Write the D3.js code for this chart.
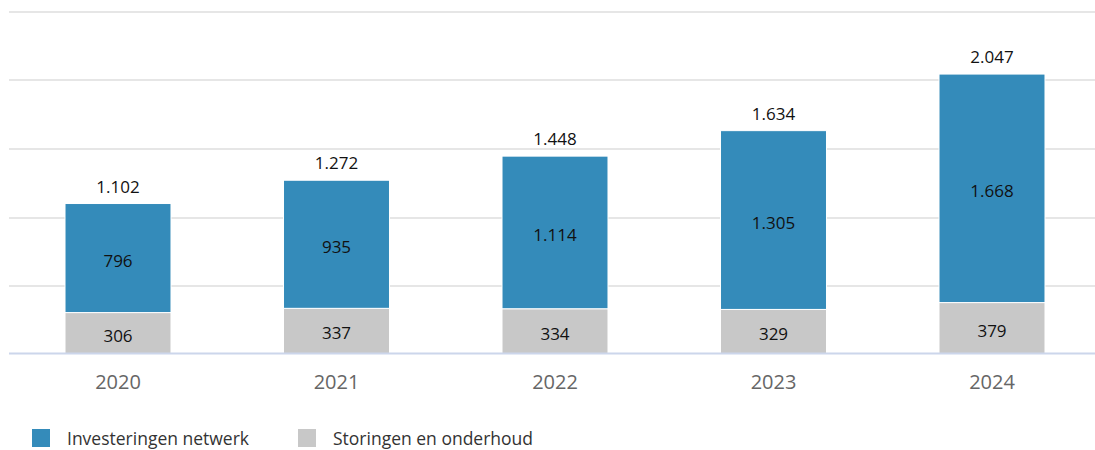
<!DOCTYPE html>
<html>
<head>
<meta charset="utf-8">
<script src="https://cdn.jsdelivr.net/npm/d3@7"></script>
<style>
  body { margin: 0; background: #fff; }
  text { font-family: "Open Sans", Lato, sans-serif; }
</style>
</head>
<body>
<svg id="chart" width="1095" height="450"></svg>
<script>
const years = ["2020", "2021", "2022", "2023", "2024"];
const investeringen = [796, 935, 1114, 1305, 1668];
const storingen = [306, 337, 334, 329, 379];
const totals = [1102, 1272, 1448, 1634, 2047];
const yTicks = [0, 500, 1000, 1500, 2000, 2500];
const seriesNames = ["Investeringen netwerk", "Storingen en onderhoud"];
const colors = ["#348bba", "#c8c8c8"];

const fmt = v => d3.format(",")(v).replace(/,/g, ".");

const svg = d3.select("#chart");
const plotLeft = 9, plotRight = 1095, plotTop = 12, plotBottom = 354.5;

const pad = 0.515;
const x = d3.scaleBand().domain(years).range([8.75, 8.75 + 5 * 218.5]).paddingInner(pad).paddingOuter(pad / 2);
const y = d3.scaleLinear().domain([0, 2500]).range([plotBottom, plotTop]);

// gridlines
svg.append("g").selectAll("line").data(yTicks.slice(1)).join("line")
  .attr("x1", plotLeft).attr("x2", plotRight)
  .attr("y1", d => Math.round(y(d))).attr("y2", d => Math.round(y(d)))
  .attr("stroke", "#e6e6e6").attr("stroke-width", 2);

const rows = years.map((yr, i) => ({ year: yr, inv: investeringen[i], sto: storingen[i], total: totals[i] }));

// storingen (bottom)
svg.append("g").selectAll("rect").data(rows).join("rect")
  .attr("x", d => x(d.year)).attr("width", x.bandwidth())
  .attr("y", d => y(d.sto)).attr("height", d => y(0) - y(d.sto))
  .attr("fill", colors[1]).attr("stroke", "#fff").attr("stroke-width", 1);

// investeringen (top)
svg.append("g").selectAll("rect").data(rows).join("rect")
  .attr("x", d => x(d.year)).attr("width", x.bandwidth())
  .attr("y", d => y(d.sto + d.inv)).attr("height", d => y(d.sto) - y(d.sto + d.inv))
  .attr("fill", colors[0]).attr("stroke", "#fff").attr("stroke-width", 1);

// axis line
svg.append("line").attr("x1", plotLeft).attr("x2", plotRight)
  .attr("y1", 353.5).attr("y2", 353.5)
  .attr("stroke", "#ccd6eb").attr("stroke-width", 2);

const labels = svg.append("g").attr("font-size", 17).attr("fill", "#111").attr("text-anchor", "middle");
labels.selectAll(".sto").data(rows).join("text")
  .attr("x", d => x(d.year) + x.bandwidth() / 2)
  .attr("y", d => (y(0) + y(d.sto)) / 2 + 8)
  .text(d => fmt(d.sto));
labels.selectAll(".inv").data(rows).join("text")
  .attr("x", d => x(d.year) + x.bandwidth() / 2)
  .attr("y", d => (y(d.sto) + y(d.sto + d.inv)) / 2 + 8.5)
  .text(d => fmt(d.inv));
labels.selectAll(".tot").data(rows).join("text")
  .attr("x", d => x(d.year) + x.bandwidth() / 2)
  .attr("y", d => y(d.total) - 11)
  .text(d => fmt(d.total));

// x axis labels
svg.append("g").selectAll("text").data(years).join("text")
  .attr("x", d => x(d) + x.bandwidth() / 2)
  .attr("y", 389)
  .attr("text-anchor", "middle").attr("font-size", 20).attr("fill", "#666")
  .text(d => d);

// legend
const legend = svg.append("g").attr("transform", "translate(32,429)");
const items = legend.selectAll("g").data(seriesNames).join("g")
  .attr("transform", (d, i) => `translate(${i * 266},0)`);
items.append("rect").attr("width", 18).attr("height", 18).attr("fill", (d, i) => colors[i]);
items.append("text").attr("x", 35).attr("y", 16).attr("font-size", 17.5).attr("fill", "#333").text(d => d);
</script>
</body>
</html>
